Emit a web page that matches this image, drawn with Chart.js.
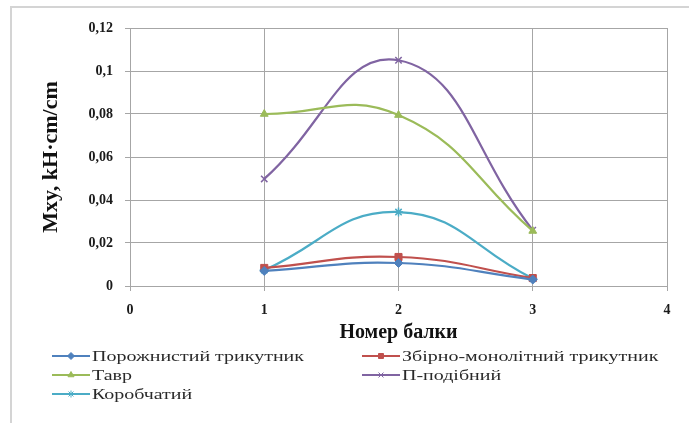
<!DOCTYPE html>
<html>
<head>
<meta charset="utf-8">
<script src="https://cdn.jsdelivr.net/npm/chart.js@4/dist/chart.umd.min.js"></script>
<style>
  html, body { margin: 0; padding: 0; background: #fff; }
  #wrap { position: relative; width: 689px; height: 423px; overflow: hidden; }
  #frame { position: absolute; left: 10px; top: 6px; right: -4px; bottom: -4px;
           border-left: 2px solid #d4d4d4; border-top: 2px solid #d4d4d4; }
  #chart { position: absolute; left: 0; top: 0; }
</style>
</head>
<body>
<div id="wrap">
  <div id="frame"></div>
  <canvas id="chart" width="689" height="423"></canvas>
</div>
<script>
// beam number (x) and Mxy values per section type
const beams = [1, 2, 3];
const seriesNames = ["Порожнистий трикутник", "Збірно-монолітний трикутник", "Тавр", "П-подібний", "Коробчатий"];
const hollowTriangle = [0.007, 0.0107, 0.003];
const precastTriangle = [0.0084, 0.0135, 0.0037];
const teeBeam = [0.080, 0.0795, 0.0256];
const piBeam = [0.0498, 0.105, 0.026];
const boxBeam = [0.0074, 0.0344, 0.0035];
const yTicks = [0, 0.02, 0.04, 0.06, 0.08, 0.1, 0.12];
const xTicks = [0, 1, 2, 3, 4];

const colors = ["#4F81BD", "#C0504D", "#9BBB59", "#8064A2", "#4BACC6"];
const markers = ["rectRot", "rect", "triangle", "crossRot", "star"];
const allValues = [hollowTriangle, precastTriangle, teeBeam, piBeam, boxBeam];

const serif = "'Times New Roman', 'Liberation Serif', serif";

// two-column legend below the axis, like the Excel original
const legendCols = [52, 362];
const legendRows = [356, 375, 394];
const legendTextWidth = 212; // the original text is drawn wide

const columnLegend = {
  id: "columnLegend",
  afterDraw(chart) {
    const ctx = chart.ctx;
    ctx.save();
    ctx.font = "15px " + serif;
    const stretch = legendTextWidth / ctx.measureText(seriesNames[0]).width;
    chart.data.datasets.forEach((ds, i) => {
      const x0 = legendCols[i % 2];
      const y = legendRows[Math.floor(i / 2)];
      ctx.strokeStyle = ds.borderColor;
      ctx.fillStyle = ds.borderColor;
      ctx.lineWidth = 2;
      ctx.beginPath();
      ctx.moveTo(x0, y);
      ctx.lineTo(x0 + 38, y);
      ctx.stroke();
      ctx.lineWidth = 1;
      Chart.helpers.drawPoint(ctx, { pointStyle: ds.pointStyle, radius: 3.5, borderWidth: 1, rotation: 0 }, x0 + 19, y);
      ctx.save();
      ctx.translate(x0 + 40, y);
      ctx.scale(stretch, 1);
      ctx.fillStyle = "#2a2a2a";
      ctx.textBaseline = "middle";
      ctx.textAlign = "left";
      ctx.fillText(ds.label, 0, 1);
      ctx.restore();
    });
    ctx.restore();
  }
};

const datasets = allValues.map((vals, i) => ({
  label: seriesNames[i],
  data: beams.map((b, j) => ({ x: b, y: vals[j] })),
  showLine: true,
  borderColor: colors[i],
  backgroundColor: colors[i],
  pointBorderColor: colors[i],
  pointBackgroundColor: colors[i],
  borderWidth: 2.2,
  tension: 0.45,
  pointStyle: markers[i],
  pointRadius: markers[i] === "rect" ? 5 : 4.5,
  pointBorderWidth: markers[i] === "crossRot" || markers[i] === "star" ? 1.5 : 1
}));

new Chart(document.getElementById("chart"), {
  type: "scatter",
  data: { datasets },
  plugins: [columnLegend],
  options: {
    responsive: false,
    animation: false,
    layout: { padding: { top: 28, right: 22, left: 0, bottom: 78 } },
    plugins: { legend: { display: false }, tooltip: { enabled: false } },
    scales: {
      x: {
        type: "linear",
        min: 0, max: 4,
        afterBuildTicks: (axis) => { axis.ticks = xTicks.map(v => ({ value: v })); },
        afterFit: (axis) => { axis.height = 59; },
        grid: { color: "#a6a6a6", lineWidth: 1, tickLength: 5, drawOnChartArea: true },
        border: { color: "#a6a6a6", width: 1 },
        ticks: { color: "#1a1a1a", padding: 11, font: { family: serif, size: 14, weight: "bold" } },
        title: { display: true, text: "Номер балки", color: "#111", padding: { top: 0, bottom: 0 },
                 font: { family: serif, size: 20, weight: "bold" } }
      },
      y: {
        min: 0, max: 0.12,
        afterBuildTicks: (axis) => { axis.ticks = yTicks.map(v => ({ value: v })); },
        afterFit: (axis) => { axis.width = 130; },
        grid: { color: "#a6a6a6", lineWidth: 1, tickLength: 5 },
        border: { color: "#a6a6a6", width: 1 },
        ticks: {
          color: "#1a1a1a", padding: 12,
          font: { family: serif, size: 14, weight: "bold" },
          callback: (v) => String(+v.toFixed(2)).replace(".", ",")
        },
        title: { display: true, text: "Mxy, kH·cm/cm", color: "#111", padding: { top: 38, bottom: 0 },
                 font: { family: serif, size: 22, weight: "bold" } }
      }
    }
  }
});
</script>
</body>
</html>
